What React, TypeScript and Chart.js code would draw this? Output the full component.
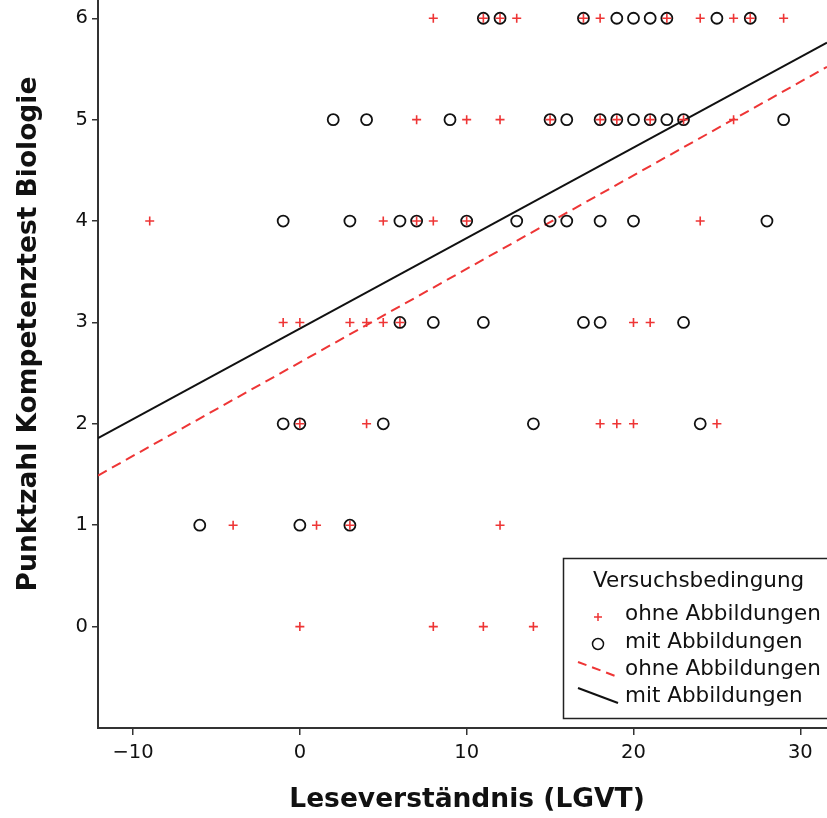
import React, { useEffect, useRef } from "react";
import { Chart, registerables } from "chart.js";

Chart.register(...registerables);

const xTicks = [-10, 0, 10, 20, 30];
const yTicks = [0, 1, 2, 3, 4, 5, 6];
const xRange = [-12.1, 31.6];
const yRange = [-1, 6.18];

// ohne Abbildungen (red crosses)
const ohneX = [
  8, 11, 12, 13, 17, 18, 22, 24, 26, 27, 29,
  7, 10, 12, 15, 18, 19, 21, 23, 26,
  -9, 5, 7, 8, 10, 24,
  -1, 0, 3, 4, 5, 6, 20, 21,
  0, 4, 18, 19, 20, 25,
  -4, 1, 3, 12,
  0, 8, 11, 14,
];
const ohneY = [
  6, 6, 6, 6, 6, 6, 6, 6, 6, 6, 6,
  5, 5, 5, 5, 5, 5, 5, 5, 5,
  4, 4, 4, 4, 4, 4,
  3, 3, 3, 3, 3, 3, 3, 3,
  2, 2, 2, 2, 2, 2,
  1, 1, 1, 1,
  0, 0, 0, 0,
];

// mit Abbildungen (black circles)
const mitX = [
  11, 12, 17, 19, 20, 21, 22, 25, 27,
  2, 4, 9, 15, 16, 18, 19, 20, 21, 22, 23, 29,
  -1, 3, 6, 7, 10, 13, 15, 16, 18, 20, 28,
  6, 8, 11, 17, 18, 23,
  -1, 0, 5, 14, 24,
  -6, 0, 3,
];
const mitY = [
  6, 6, 6, 6, 6, 6, 6, 6, 6,
  5, 5, 5, 5, 5, 5, 5, 5, 5, 5, 5, 5,
  4, 4, 4, 4, 4, 4, 4, 4, 4, 4, 4,
  3, 3, 3, 3, 3, 3,
  2, 2, 2, 2, 2,
  1, 1, 1,
];

// regression lines (endpoints at axis limits)
const lineX = [-12.1, 31.6];
const ohneLineY = [1.49, 5.52];
const mitLineY = [1.86, 5.76];

const legendTitle = "Versuchsbedingung";
const legendLabels = ["ohne Abbildungen", "mit Abbildungen", "ohne Abbildungen", "mit Abbildungen"];
const xTitle = "Leseverständnis (LGVT)";
const yTitle = "Punktzahl Kompetenztest Biologie";

const RED = "#ee3535";
const BLACK = "#111111";
const FONT = "'DejaVu Sans', sans-serif";

const overlayPlugin = {
  id: "overlay",
  afterDraw(chart: any) {
    const ctx = chart.ctx;
    ctx.save();
    // axis titles
    ctx.fillStyle = "#111";
    ctx.font = `bold 26.5px ${FONT}`;
    ctx.textAlign = "center";
    ctx.textBaseline = "middle";
    ctx.fillText(xTitle, 467, 800);
    ctx.save();
    ctx.translate(29, 334);
    ctx.rotate(-Math.PI / 2);
    ctx.fillText(yTitle, 0, 0);
    ctx.restore();

    // legend box
    const bx = 563.5, by = 558.5, bw = 300, bh = 160;
    ctx.fillStyle = "#fff";
    ctx.fillRect(bx, by, bw, bh);
    ctx.strokeStyle = "#222";
    ctx.lineWidth = 1.5;
    ctx.strokeRect(bx, by, bw, bh);

    ctx.fillStyle = "#111";
    ctx.font = `21.5px ${FONT}`;
    ctx.textAlign = "left";
    ctx.textBaseline = "middle";
    ctx.fillText(legendTitle, 593, 581);
    const rows = [614, 642, 669, 696];
    legendLabels.forEach((t, i) => ctx.fillText(t, 625, rows[i]));

    // cross symbol
    ctx.strokeStyle = RED;
    ctx.lineWidth = 1.5;
    ctx.beginPath();
    ctx.moveTo(594, 617); ctx.lineTo(602, 617);
    ctx.moveTo(598, 613); ctx.lineTo(598, 621);
    ctx.stroke();
    // circle symbol
    ctx.strokeStyle = BLACK;
    ctx.beginPath();
    ctx.arc(598, 644, 5.5, 0, Math.PI * 2);
    ctx.stroke();
    // dashed line
    ctx.strokeStyle = RED;
    ctx.lineWidth = 2;
    ctx.setLineDash([9, 6]);
    ctx.beginPath();
    ctx.moveTo(578, 662); ctx.lineTo(618, 677);
    ctx.stroke();
    ctx.setLineDash([]);
    ctx.strokeStyle = BLACK;
    ctx.beginPath();
    ctx.moveTo(578, 688); ctx.lineTo(618, 703);
    ctx.stroke();
    ctx.restore();
  },
};

export default function App() {
  const ref = useRef<HTMLCanvasElement | null>(null);
  useEffect(() => {
    if (!ref.current) return;
    const ohnePts = ohneX.map((x, i) => ({ x, y: ohneY[i] }));
    const mitPts = mitX.map((x, i) => ({ x, y: mitY[i] }));
    const ohneLine = lineX.map((x, i) => ({ x, y: ohneLineY[i] }));
    const mitLine = lineX.map((x, i) => ({ x, y: mitLineY[i] }));
    const chart = new Chart(ref.current, {
      type: "scatter",
      data: {
        datasets: [
          {
            label: "ohne Abbildungen",
            data: ohnePts,
            pointStyle: "cross",
            pointRadius: 4.5,
            pointBorderWidth: 1.6,
            borderColor: RED,
            backgroundColor: RED,
            pointHoverRadius: 4.5,
            order: 0,
          },
          {
            label: "mit Abbildungen",
            data: mitPts,
            pointStyle: "circle",
            pointRadius: 5.5,
            pointBorderWidth: 1.8,
            borderColor: BLACK,
            backgroundColor: "rgba(0,0,0,0)",
            order: 1,
          },
          {
            type: "line",
            label: "ohne Linie",
            data: ohneLine,
            borderColor: RED,
            borderWidth: 2,
            borderDash: [10, 6],
            pointRadius: 0,
            fill: false,
            order: 2,
          },
          {
            type: "line",
            label: "mit Linie",
            data: mitLine,
            borderColor: BLACK,
            borderWidth: 2,
            pointRadius: 0,
            fill: false,
            order: 3,
          },
        ] as any,
      },
      options: {
        responsive: false,
        animation: false,
        events: [],
        layout: { padding: 0, autoPadding: false },
        plugins: { legend: { display: false }, tooltip: { enabled: false }, title: { display: false } },
        scales: {
          x: {
            type: "linear",
            min: xRange[0],
            max: xRange[1],
            afterBuildTicks: (s: any) => { s.ticks = xTicks.map((v) => ({ value: v })); },
            afterFit: (s: any) => { s.height = 90; s.paddingLeft = 0; s.paddingRight = 0; },
            ticks: {
              color: "#111",
              font: { family: FONT, size: 19.5 },
              padding: 6,
              maxRotation: 0,
              callback: (v: any) => (Number(v) < 0 ? "\u2212" + Math.abs(Number(v)) : String(v)),
            },
            grid: { display: true, drawOnChartArea: false, drawTicks: true, tickLength: 7, color: "#333", lineWidth: 1.5 },
            border: { display: true, color: "#333", width: 2 },
          },
          y: {
            type: "linear",
            min: yRange[0],
            max: yRange[1],
            afterBuildTicks: (s: any) => { s.ticks = yTicks.map((v) => ({ value: v })); },
            afterFit: (s: any) => { s.width = 98; s.paddingTop = 0; s.paddingBottom = 0; },
            ticks: {
              color: "#111",
              font: { family: FONT, size: 19.5 },
              padding: 4,
            },
            grid: { display: true, drawOnChartArea: false, drawTicks: true, tickLength: 6, color: "#333", lineWidth: 1.5 },
            border: { display: true, color: "#333", width: 2 },
          },
        },
      } as any,
      plugins: [overlayPlugin],
    });
    return () => chart.destroy();
  }, []);
  return (
    <div style={{ position: "absolute", left: 0, top: 0, width: 827, height: 818, background: "#fff" }}>
      <canvas ref={ref} width={827} height={818} style={{ width: 827, height: 818, display: "block" }} />
    </div>
  );
}
